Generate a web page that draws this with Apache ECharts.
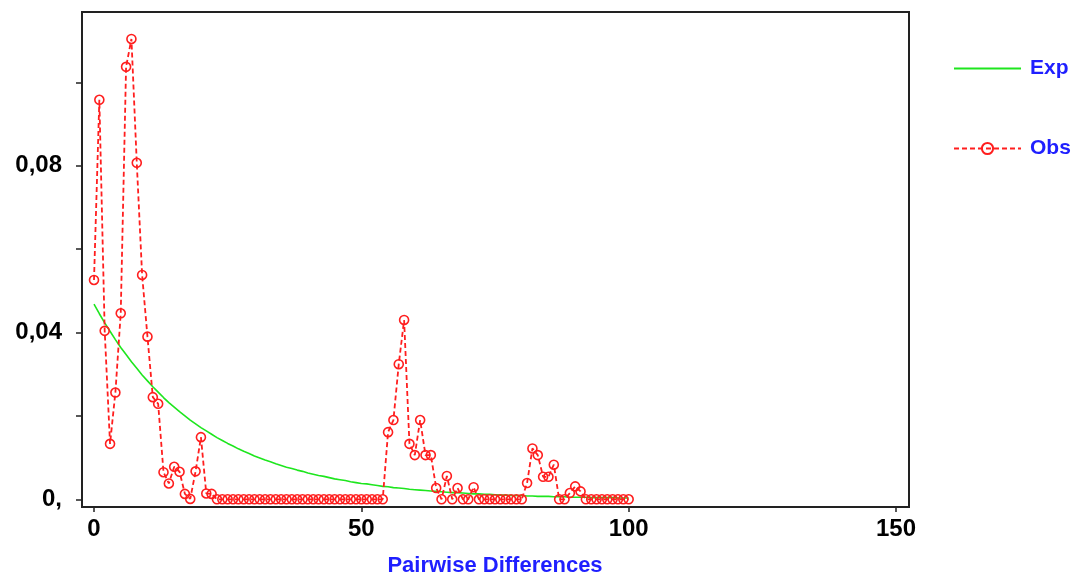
<!DOCTYPE html>
<html>
<head>
<meta charset="utf-8">
<script src="https://cdn.jsdelivr.net/npm/echarts@6/dist/echarts.min.js"></script>
<style>
html,body{margin:0;padding:0;background:#fff;}
#chart{width:1075px;height:576px;}
</style>
</head>
<body>
<div id="chart"></div>
<script>
// Observed mismatch distribution (index = pairwise differences 0..100)
var obsValues = [
  0.0526, 0.0958, 0.0404, 0.0133, 0.0256, 0.0446, 0.1037, 0.1104, 0.0807, 0.0538,
  0.0390, 0.0245, 0.0229, 0.0065, 0.0038, 0.0078, 0.0066, 0.0013, 0.0001, 0.0067,
  0.0149, 0.0014, 0.0013, 0, 0, 0, 0, 0, 0, 0,
  0, 0, 0, 0, 0, 0, 0, 0, 0, 0,
  0, 0, 0, 0, 0, 0, 0, 0, 0, 0,
  0, 0, 0, 0, 0, 0.0161, 0.0190, 0.0324, 0.0430, 0.0133,
  0.0106, 0.0190, 0.0106, 0.0106, 0.0027, 0, 0.0056, 0, 0.0027, 0,
  0, 0.0029, 0, 0, 0, 0, 0, 0, 0, 0,
  0, 0.0039, 0.0122, 0.0106, 0.0054, 0.0054, 0.0083, 0, 0, 0.0015,
  0.0031, 0.0019, 0, 0, 0, 0, 0, 0, 0, 0,
  0
];
// Expected curve
var expValues = [
  0.0468, 0.0445, 0.0423, 0.0403, 0.0383, 0.0364, 0.0347, 0.0330, 0.0314, 0.0298,
  0.0284, 0.0270, 0.0257, 0.0244, 0.0232, 0.0221, 0.0210, 0.0200, 0.0190, 0.0181,
  0.0172, 0.0164, 0.0156, 0.0148, 0.0141, 0.0134, 0.0128, 0.0121, 0.0115, 0.0110,
  0.0104, 0.0099, 0.0094, 0.0090, 0.0085, 0.0081, 0.0077, 0.0074, 0.0070, 0.0067,
  0.0063, 0.0060, 0.0057, 0.0055, 0.0052, 0.0049, 0.0047, 0.0045, 0.0042, 0.0040,
  0.0038, 0.0037, 0.0035, 0.0033, 0.0031, 0.0030, 0.0028, 0.0027, 0.0026, 0.0024,
  0.0023, 0.0022, 0.0021, 0.0020, 0.0019, 0.0018, 0.0017, 0.0016, 0.0016, 0.0015,
  0.0014, 0.0013, 0.0013, 0.0012, 0.0012, 0.0011, 0.0010, 0.0010, 0.0009, 0.0009,
  0.0009, 0.0008, 0.0008, 0.0007, 0.0007, 0.0007, 0.0006, 0.0006, 0.0006, 0.0005,
  0.0005, 0.0005, 0.0005, 0.0004, 0.0004, 0.0004, 0.0004, 0.0004, 0.0003, 0.0003,
  0.0003
];
var seriesNames = ['Exp', 'Obs'];
var yTickValues = [0, 0.04, 0.08];
var yTickLabels = ['0,', '0,04', '0,08'];
var xTickLabels = ['0', '50', '100', '150'];
var xAxisTitle = 'Pairwise Differences';

function pairs(arr) {
  var out = [];
  for (var i = 0; i < arr.length; i++) out.push([i, arr[i]]);
  return out;
}

var FONT = '"Liberation Sans", Arial, sans-serif';
var BLUE = '#1f1fff';
var RED = '#ff1e1e';
var GREEN = '#1ee61e';

var chart = echarts.init(document.getElementById('chart'), null, {renderer: 'canvas'});
chart.setOption({
  animation: false,
  backgroundColor: '#ffffff',
  grid: [
    {left: 94, right: 179, top: 82.3, bottom: 76.7, show: false, outerBoundsMode: 'none', containLabel: false},
    {left: 82, right: 166, top: 12, bottom: 69, show: true, borderColor: '#222', borderWidth: 2, backgroundColor: 'transparent', z: 0, outerBoundsMode: 'none', containLabel: false}
  ],
  legend: [
    {
      data: [seriesNames[0]], orient: 'vertical', left: 948, top: 53,
      itemWidth: 67, itemHeight: 14,
      itemStyle: {opacity: 0},
      textStyle: {color: BLUE, fontWeight: 'bold', fontSize: 21, fontFamily: FONT, padding: [0, 0, 0, 4]}
    },
    {
      data: [seriesNames[1]], orient: 'vertical', left: 948, top: 133,
      itemWidth: 67, itemHeight: 14,
      textStyle: {color: BLUE, fontWeight: 'bold', fontSize: 21, fontFamily: FONT, padding: [0, 0, 0, 4]}
    }
  ],
  xAxis: [
    {
      type: 'value', gridIndex: 0, min: 0, max: 150, interval: 50, offset: 7.7,
      axisLine: {show: false, onZero: false},
      axisTick: {show: true, length: 5, lineStyle: {color: '#222', width: 1.5}},
      splitLine: {show: false},
      axisLabel: {
        margin: 10, color: '#000', fontWeight: 'bold', fontSize: 24, fontFamily: FONT,
        formatter: function (v) { return xTickLabels[Math.round(v / 50)] || ''; }
      },
      name: xAxisTitle, nameLocation: 'middle', nameGap: 48,
      nameTextStyle: {color: BLUE, fontWeight: 'bold', fontSize: 22, fontFamily: FONT}
    },
    {type: 'value', gridIndex: 1, min: 0, max: 1, show: false}
  ],
  yAxis: [
    {
      type: 'value', gridIndex: 0, min: 0, max: 0.1, interval: 0.02, offset: 12,
      axisLine: {show: false, onZero: false},
      axisTick: {show: true, length: 6, lineStyle: {color: '#222', width: 1.5}},
      splitLine: {show: false},
      axisLabel: {
        margin: 20, color: '#000', fontWeight: 'bold', fontSize: 24, fontFamily: FONT,
        formatter: function (v) {
          for (var i = 0; i < yTickValues.length; i++) {
            if (Math.abs(v - yTickValues[i]) < 1e-9) return yTickLabels[i];
          }
          return '';
        }
      }
    },
    {type: 'value', gridIndex: 1, min: 0, max: 1, show: false}
  ],
  series: [
    {
      name: seriesNames[0], type: 'line', xAxisIndex: 0, yAxisIndex: 0,
      data: pairs(expValues), symbol: 'none', clip: false, z: 3,
      lineStyle: {color: GREEN, width: 1.6},
      itemStyle: {color: GREEN}
    },
    {
      name: seriesNames[1], type: 'line', xAxisIndex: 0, yAxisIndex: 0,
      data: pairs(obsValues), symbol: 'circle', symbolSize: 9, showAllSymbol: true, clip: false, z: 4,
      lineStyle: {color: RED, width: 1.8, type: [5, 3]},
      itemStyle: {color: 'rgba(255,255,255,0)', borderColor: RED, borderWidth: 1.6}
    }
  ]
});
</script>
</body>
</html>
